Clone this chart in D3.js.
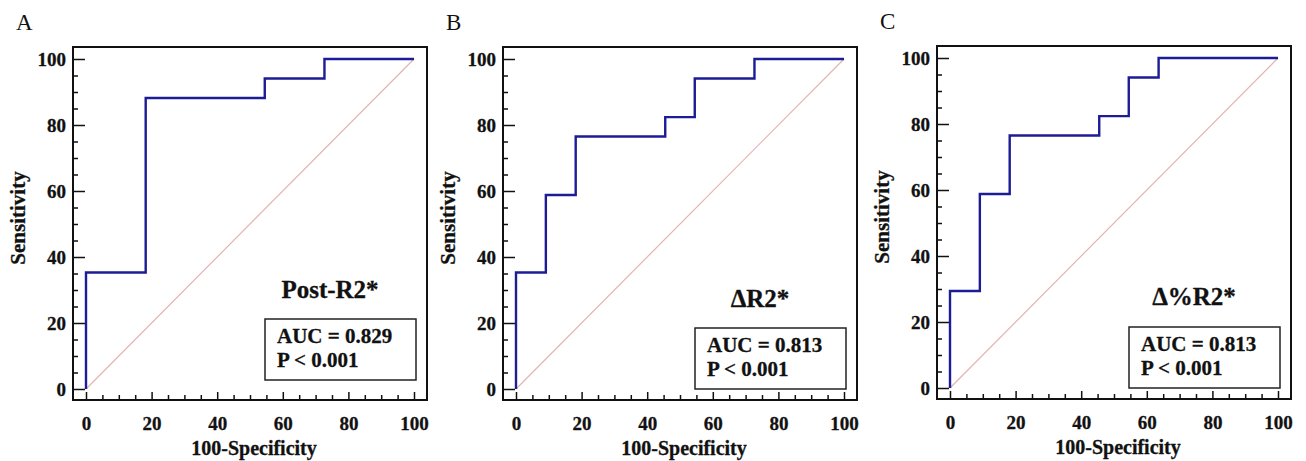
<!DOCTYPE html>
<html>
<head>
<meta charset="utf-8">
<script src="https://cdn.jsdelivr.net/npm/d3@7"></script>
<style>
  body { margin: 0; background: #fff; }
  text { font-family: "Liberation Serif", "Times New Roman", serif; fill: #111; }
  text.b { font-weight: bold; stroke: #111; stroke-width: 0.3; }
</style>
</head>
<body>
<svg id="fig" width="1306" height="461"></svg>
<script>
// data
var panelLetters = ['A', 'B', 'C'];
var markerLabels = ['Post-R2*', '\u0394R2*', '\u0394%R2*'];
var aucLabels = ['AUC = 0.829', 'AUC = 0.813', 'AUC = 0.813'];
var pLabels = ['P < 0.001', 'P < 0.001', 'P < 0.001'];

// ROC step points (100-Specificity, Sensitivity)
var fprA = [0, 0, 18.2, 18.2, 54.5, 54.5, 72.7, 72.7, 100];
var tprA = [0, 35.3, 35.3, 88.2, 88.2, 94.1, 94.1, 100, 100];
var fprB = [0, 0, 9.1, 9.1, 18.2, 18.2, 45.5, 45.5, 54.5, 54.5, 72.7, 72.7, 100];
var tprB = [0, 35.3, 35.3, 58.8, 58.8, 76.5, 76.5, 82.4, 82.4, 94.1, 94.1, 100, 100];
var fprC = [0, 0, 9.1, 9.1, 18.2, 18.2, 45.5, 45.5, 54.5, 54.5, 63.6, 63.6, 100];
var tprC = [0, 29.4, 29.4, 58.8, 58.8, 76.5, 76.5, 82.4, 82.4, 94.1, 94.1, 100, 100];

var majorTicks = [0, 20, 40, 60, 80, 100];
var minorTicks = d3.range(0, 101, 5).filter(d => d % 20 !== 0);

var panels = [
  { fpr: fprA, tpr: tprA, dx: 0, dy: 0, labelY: 298, boxY: 319 },
  { fpr: fprB, tpr: tprB, dx: 430, dy: 0, labelY: 307, boxY: 328 },
  { fpr: fprC, tpr: tprC, dx: 864, dy: -1, labelY: 306, boxY: 328 }
];

function drawPanel(svg, p, i) {
  var g = svg.append('g')
      .attr('transform', 'translate(' + p.dx + ',' + p.dy + ')');

  var x = d3.scaleLinear().domain([0, 100]).range([86, 414]);
  var y = d3.scaleLinear().domain([0, 100]).range([389, 59]);

  var left = 73, right = 427, top = 47, bottom = 400;

  // panel letter
  g.append('text')
      .attr('x', 16)
      .attr('y', 30)
      .attr('font-size', 23)
      .text(panelLetters[i]);

  // minor / major ticks (inward)
  var bottomAxis = g.append('g').attr('transform', 'translate(0,' + bottom + ')');
  bottomAxis.call(d3.axisBottom(x).tickValues(minorTicks).tickSize(-5).tickFormat(''));
  var bottomMajor = g.append('g').attr('transform', 'translate(0,' + bottom + ')');
  bottomMajor.call(d3.axisBottom(x).tickValues(majorTicks).tickSize(-8).tickPadding(17));

  var leftAxis = g.append('g').attr('transform', 'translate(' + left + ',0)');
  leftAxis.call(d3.axisRight(y).tickValues(minorTicks).tickSize(5).tickFormat(''));
  var leftMajor = g.append('g').attr('transform', 'translate(' + left + ',0)');
  leftMajor.call(d3.axisRight(y).tickValues(majorTicks).tickSize(12).tickFormat(''));

  // y tick labels on the outside
  g.selectAll('.ylab')
    .data(majorTicks)
    .enter()
    .append('text')
      .classed('b', true)
      .attr('x', 66)
      .attr('y', d => y(d))
      .attr('dy', '0.35em')
      .attr('text-anchor', 'end')
      .attr('font-size', 19)
      .text(d => d);

  g.selectAll('.domain').remove();
  g.selectAll('.tick line').attr('stroke', '#111').attr('stroke-width', 1.5);
  bottomMajor.selectAll('.tick text')
      .classed('b', true)
      .attr('font-size', 19);

  // frame
  g.append('rect')
      .attr('x', left)
      .attr('y', top)
      .attr('width', right - left)
      .attr('height', bottom - top)
      .attr('fill', 'none')
      .attr('stroke', '#111')
      .attr('stroke-width', 2);

  // reference diagonal
  g.append('line')
      .attr('x1', x(0)).attr('y1', y(0))
      .attr('x2', x(100)).attr('y2', y(100))
      .attr('stroke', '#e3b4b4')
      .attr('stroke-width', 1.2);

  // ROC curve
  var pts = p.fpr.map((d, k) => [d, p.tpr[k]]);
  var line = d3.line().x(d => x(d[0])).y(d => y(d[1]));
  g.append('path')
      .datum(pts)
      .attr('d', line)
      .attr('fill', 'none')
      .attr('stroke', '#1c1c96')
      .attr('stroke-width', 2.4);

  // axis titles
  g.append('text')
      .classed('b', true)
      .attr('x', 254)
      .attr('y', 455)
      .attr('text-anchor', 'middle')
      .attr('font-size', 20)
      .text('100-Specificity');

  g.append('text')
      .classed('b', true)
      .attr('transform', 'translate(25,218) rotate(-90)')
      .attr('text-anchor', 'middle')
      .attr('font-size', 21)
      .text('Sensitivity');

  // marker label
  g.append('text')
      .classed('b', true)
      .attr('x', 330)
      .attr('y', p.labelY)
      .attr('text-anchor', 'middle')
      .attr('font-size', 25)
      .text(markerLabels[i]);

  // AUC box
  g.append('rect')
      .attr('x', 265)
      .attr('y', p.boxY)
      .attr('width', 151)
      .attr('height', 61)
      .attr('fill', '#fff')
      .attr('stroke', '#222')
      .attr('stroke-width', 1.5);

  g.append('text')
      .classed('b', true)
      .attr('x', 277)
      .attr('y', p.boxY + 24)
      .attr('font-size', 21)
      .text(aucLabels[i]);

  g.append('text')
      .classed('b', true)
      .attr('x', 277)
      .attr('y', p.boxY + 48)
      .attr('font-size', 21)
      .text(pLabels[i]);
}

var svg = d3.select('#fig');
panels.forEach((p, i) => drawPanel(svg, p, i));
</script>
</body>
</html>
